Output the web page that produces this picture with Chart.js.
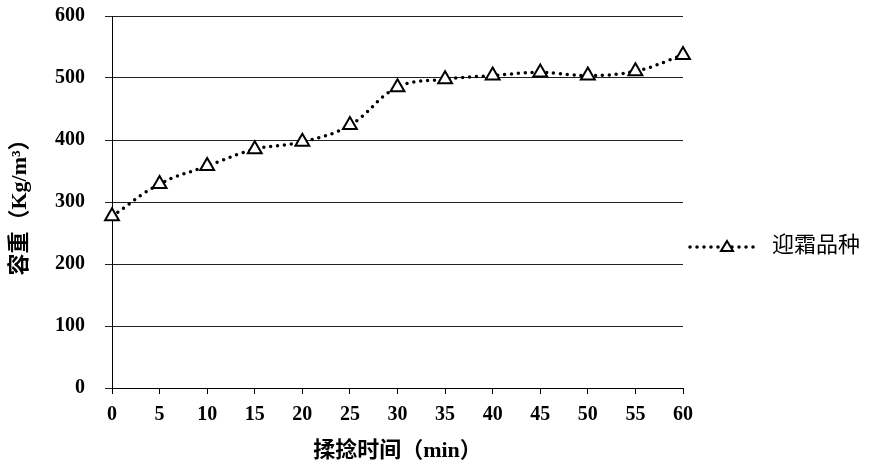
<!DOCTYPE html>
<html lang="zh">
<head>
    <meta charset="UTF-8">
    <title>容重</title>
    <script src="https://cdn.jsdelivr.net/npm/chart.js"></script>
    <style>
        body { margin: 0; background: #fff; }
        #wrap { width: 870px; height: 472px; position: relative; }
    </style>
</head>
<body>
    <div id="wrap"><canvas id="chart"></canvas></div>
    <script>
        // data
        const times = [0, 5, 10, 15, 20, 25, 30, 35, 40, 45, 50, 55, 60];
        const density = [277, 329, 358, 385, 397, 424, 485, 498, 504, 509, 504, 511, 537];
        const seriesName = '迎霜品种';
        const xTitle = '揉捻时间（min）';
        const yTitle = '容重（Kg/m³）';

        const tickFont = { family: 'Liberation Serif', size: 20, weight: 'bold' };
        const titleFont = { family: '"Liberation Serif", "Noto Sans CJK SC"', size: 22, weight: 'bold' };

        // legend: dotted line with a triangle, drawn to the right of the plot
        const sideLegend = {
            id: 'sideLegend',
            afterDraw(chart) {
                const ctx = chart.ctx;
                const x0 = chart.chartArea.right + 5;
                const y = 247;
                ctx.save();
                ctx.strokeStyle = '#000';
                ctx.lineWidth = 3.5;
                ctx.lineCap = 'round';
                ctx.setLineDash([0, 7]);
                ctx.beginPath();
                ctx.moveTo(x0 + 2, y);
                ctx.lineTo(x0 + 70, y);
                ctx.stroke();
                ctx.setLineDash([]);
                ctx.lineWidth = 2;
                ctx.fillStyle = '#fff';
                ctx.beginPath();
                ctx.moveTo(x0 + 39, y - 6);
                ctx.lineTo(x0 + 45, y + 4);
                ctx.lineTo(x0 + 33, y + 4);
                ctx.closePath();
                ctx.fill();
                ctx.stroke();
                ctx.fillStyle = '#000';
                ctx.font = '22px "Noto Sans CJK SC"';
                ctx.textBaseline = 'middle';
                ctx.fillText(seriesName, x0 + 84, y - 3);
                ctx.restore();
            }
        };

        new Chart(document.getElementById('chart'), {
            type: 'line',
            data: {
                datasets: [{
                    label: seriesName,
                    data: times.map((t, i) => ({ x: t, y: density[i] })),
                    borderColor: '#000',
                    borderWidth: 3.5,
                    borderDash: [0, 7],
                    borderCapStyle: 'round',
                    tension: 0.4,
                    clip: false,
                    pointStyle: 'triangle',
                    pointRadius: 8,
                    pointBorderWidth: 2,
                    pointBorderColor: '#000',
                    pointBackgroundColor: '#fff'
                }]
            },
            options: {
                responsive: true,
                maintainAspectRatio: false,
                animation: false,
                layout: { padding: { left: 0, right: 187, top: 16, bottom: 0 } },
                plugins: {
                    legend: { display: false },
                    tooltip: { enabled: false }
                },
                scales: {
                    x: {
                        type: 'linear',
                        min: 0,
                        max: 60,
                        ticks: { stepSize: 5, color: '#000', font: tickFont, padding: 9 },
                        grid: { drawOnChartArea: false, drawTicks: true, tickLength: 6, color: '#000' },
                        border: { color: '#000', width: 1 },
                        title: {
                            display: true,
                            text: xTitle,
                            color: '#000',
                            font: titleFont,
                            padding: { top: 2, bottom: 7 }
                        },
                        afterFit(scale) { scale.height = 84; }
                    },
                    y: {
                        min: 0,
                        max: 600,
                        ticks: { stepSize: 100, color: '#000', font: tickFont, padding: 20 },
                        grid: { color: '#222', lineWidth: 1, tickLength: 7 },
                        border: { color: '#000', width: 1 },
                        title: {
                            display: true,
                            text: yTitle,
                            color: '#000',
                            font: titleFont,
                            padding: { top: 7, bottom: 2 }
                        },
                        afterFit(scale) {
                            scale.width = 112;
                            scale.paddingTop = 0;
                            scale.paddingBottom = 0;
                        }
                    }
                }
            },
            plugins: [sideLegend]
        });
    </script>
</body>
</html>
